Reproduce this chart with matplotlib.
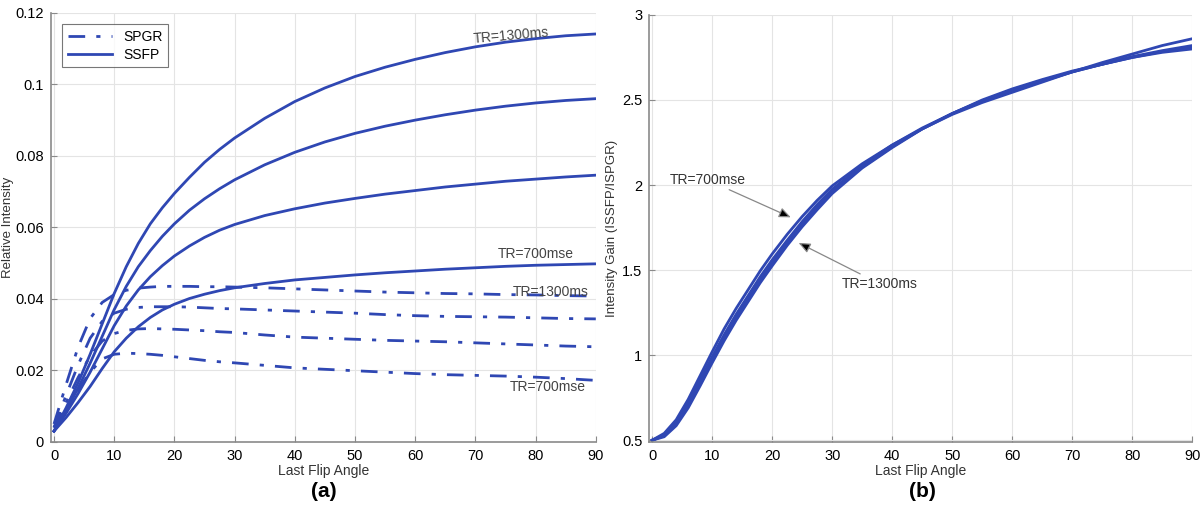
import matplotlib
matplotlib.use('Agg')
import matplotlib.pyplot as plt
from matplotlib.ticker import FuncFormatter

plt.rcParams['font.family'] = ['Liberation Sans', 'DejaVu Sans']

# panel (a): relative intensity vs last flip angle
angles = [0, 2, 4, 6, 8, 10, 12, 14, 16, 18, 20, 22.5, 25, 27.5, 30, 35, 40, 45,
          50, 55, 60, 65, 70, 75, 80, 85, 90]

ssfp_1 = [0.003, 0.0095, 0.0165, 0.0245, 0.033, 0.0415, 0.049, 0.0555, 0.061, 0.0655, 0.0695,
          0.074, 0.0782, 0.0818, 0.085, 0.0905, 0.0952, 0.099, 0.1022, 0.1048, 0.107, 0.1089,
          0.1105, 0.1118, 0.1128, 0.1136, 0.1141]
ssfp_2 = [0.003, 0.0088, 0.015, 0.022, 0.0295, 0.037, 0.0435, 0.049, 0.0535, 0.0575, 0.061,
          0.0648, 0.068, 0.0708, 0.0733, 0.0775, 0.081, 0.0839, 0.0863, 0.0883, 0.090, 0.0915,
          0.0928, 0.0939, 0.0948, 0.0955, 0.096]
ssfp_3 = [0.003, 0.008, 0.0135, 0.0195, 0.026, 0.0325, 0.038, 0.0425, 0.0462, 0.0493, 0.052,
          0.0548, 0.0572, 0.0592, 0.0608, 0.0633, 0.0652, 0.0668, 0.0681, 0.0693, 0.0703, 0.0713,
          0.0721, 0.0729, 0.0735, 0.0741, 0.0746]
ssfp_4 = [0.003, 0.0068, 0.011, 0.0155, 0.0205, 0.0252, 0.029, 0.0322, 0.0348, 0.0369, 0.0385,
          0.0401, 0.0413, 0.0423, 0.0431, 0.0443, 0.0453, 0.046, 0.0467, 0.0473, 0.0478, 0.0483,
          0.0487, 0.0491, 0.0494, 0.0496, 0.0498]

spgr_1 = [0.005, 0.016, 0.0265, 0.0345, 0.039, 0.0412, 0.0424, 0.043, 0.0433, 0.0435, 0.0435,
          0.0435, 0.0434, 0.0434, 0.0433, 0.0431, 0.0428, 0.0425, 0.0422, 0.0419, 0.0417, 0.0415,
          0.0414, 0.0412, 0.0411, 0.0409, 0.0408]
spgr_2 = [0.004, 0.013, 0.0215, 0.029, 0.0337, 0.036, 0.0371, 0.0376, 0.0378, 0.0378, 0.0378,
          0.0377, 0.0375, 0.0373, 0.0372, 0.0369, 0.0366, 0.0363, 0.036, 0.0356, 0.0353, 0.0351,
          0.035, 0.0349, 0.0347, 0.0345, 0.0344]
spgr_3 = [0.004, 0.011, 0.018, 0.024, 0.0282, 0.0303, 0.0312, 0.0316, 0.0317, 0.0316, 0.0315,
          0.0313, 0.0311, 0.0308, 0.0306, 0.0299, 0.0293, 0.029, 0.0287, 0.0284, 0.0282, 0.028,
          0.0277, 0.0274, 0.0271, 0.0268, 0.0266]
spgr_4 = [0.004, 0.009, 0.0145, 0.0195, 0.0232, 0.0245, 0.0248, 0.0247, 0.0245, 0.0242, 0.0238,
          0.0233, 0.0228, 0.0224, 0.0221, 0.0214, 0.0207, 0.0203, 0.0199, 0.0195, 0.0191, 0.0188,
          0.0186, 0.0184, 0.0181, 0.0177, 0.0172]

# panel (b): intensity gain ISSFP/ISPGR
gain_1 = [0.5, 0.54, 0.62, 0.74, 0.88, 1.02, 1.155, 1.275, 1.385, 1.495, 1.595, 1.71, 1.815,
          1.91, 1.995, 2.125, 2.235, 2.33, 2.415, 2.485, 2.545, 2.605, 2.665, 2.72, 2.77, 2.82, 2.86]
gain_2 = [0.5, 0.53, 0.605, 0.72, 0.855, 0.99, 1.12, 1.24, 1.35, 1.46, 1.56, 1.675, 1.785,
          1.885, 1.975, 2.115, 2.235, 2.335, 2.42, 2.495, 2.555, 2.61, 2.665, 2.71, 2.755, 2.79, 2.82]
gain_3 = [0.5, 0.525, 0.595, 0.705, 0.835, 0.97, 1.10, 1.22, 1.33, 1.44, 1.54, 1.66, 1.77,
          1.87, 1.96, 2.105, 2.225, 2.33, 2.42, 2.495, 2.56, 2.615, 2.665, 2.71, 2.75, 2.785, 2.81]
gain_4 = [0.5, 0.52, 0.585, 0.69, 0.82, 0.955, 1.085, 1.205, 1.315, 1.425, 1.525, 1.645, 1.755,
          1.855, 1.95, 2.10, 2.22, 2.33, 2.42, 2.50, 2.565, 2.62, 2.67, 2.71, 2.75, 2.78, 2.80]

blue = '#2f47b3'
dashdot = (0, (6, 4, 1.5, 4))


def style_axes(ax):
    ax.grid(True, color='#e4e4e4', lw=0.8)
    ax.set_axisbelow(True)
    for s in ['top', 'right']:
        ax.spines[s].set_visible(False)
    for s in ['left', 'bottom']:
        ax.spines[s].set_color('#8a8a8a')
        ax.spines[s].set_linewidth(1.2)
    ax.tick_params(direction='in', length=4, color='#8a8a8a', labelsize=10.5, pad=5)
    ax.set_xticks(range(0, 91, 10))
    ax.set_xlim(-0.5, 90)
    ax.set_xlabel('Last Flip Angle', fontsize=10, color='#333333', labelpad=1)


fig = plt.figure(figsize=(12, 5.15), dpi=100)
ax1 = fig.add_axes([0.0425, 0.142, 0.454, 0.833])
ax2 = fig.add_axes([0.541, 0.142, 0.4525, 0.829])

# (a)
for s in [spgr_1, spgr_2, spgr_3, spgr_4]:
    ax1.plot(angles, s, color=blue, lw=2, ls=dashdot)
for s in [ssfp_1, ssfp_2, ssfp_3, ssfp_4]:
    ax1.plot(angles, s, color=blue, lw=2)
ax1.plot([], [], color=blue, lw=2, ls=dashdot, label='SPGR')
ax1.plot([], [], color=blue, lw=2, label='SSFP')
style_axes(ax1)
ax1.set_ylim(0, 0.12)
ax1.set_yticks([0, 0.02, 0.04, 0.06, 0.08, 0.1, 0.12])
ax1.yaxis.set_major_formatter(FuncFormatter(lambda v, p: '%g' % round(v, 3)))
ax1.set_ylabel('Relative Intensity', fontsize=9.5, color='#333333', labelpad=1)
leg = ax1.legend(loc='upper left', fontsize=10, frameon=True, fancybox=False,
                 handlelength=3.2, borderaxespad=0.8, labelspacing=0.3)
leg.get_frame().set_edgecolor('#555555')
leg.get_frame().set_linewidth(0.8)

txt = dict(fontsize=10, color='#444444', ha='center', va='center')
ax1.text(76, 0.1137, 'TR=1300ms', rotation=5, **txt)
ax1.text(80, 0.0525, 'TR=700mse', **txt)
ax1.text(82.5, 0.0418, 'TR=1300ms', **txt)
ax1.text(82, 0.0153, 'TR=700mse', **txt)
fig.text(0.27, 0.045, '(a)', fontsize=15, fontweight='bold', ha='center', va='center')

# (b)
for g in [gain_1, gain_2, gain_3, gain_4]:
    ax2.plot(angles, g, color=blue, lw=2)
style_axes(ax2)
ax2.set_ylim(0.49, 3)
ax2.set_yticks([0.5, 1, 1.5, 2, 2.5, 3])
ax2.yaxis.set_major_formatter(FuncFormatter(lambda v, p: '%g' % v))
ax2.set_ylabel('Intensity Gain (ISSFP/ISPGR)', fontsize=9.5, color='#333333', labelpad=3)

arrow = dict(arrowstyle='-|>,head_length=0.7,head_width=0.3', ec='#888888', fc='black', lw=0.9, shrinkA=0, shrinkB=0)
ax2.annotate('TR=700mse', xy=(23.1, 1.81), xytext=(9.2, 2.03), fontsize=10, color='#333333',
             ha='center', va='center', arrowprops=arrow)
ax2.annotate('TR=1300ms', xy=(24.4, 1.66), xytext=(37.9, 1.42), fontsize=10, color='#333333',
             ha='center', va='center', arrowprops=arrow)
fig.text(0.769, 0.045, '(b)', fontsize=15, fontweight='bold', ha='center', va='center')

fig.savefig('out.png', dpi=100)
